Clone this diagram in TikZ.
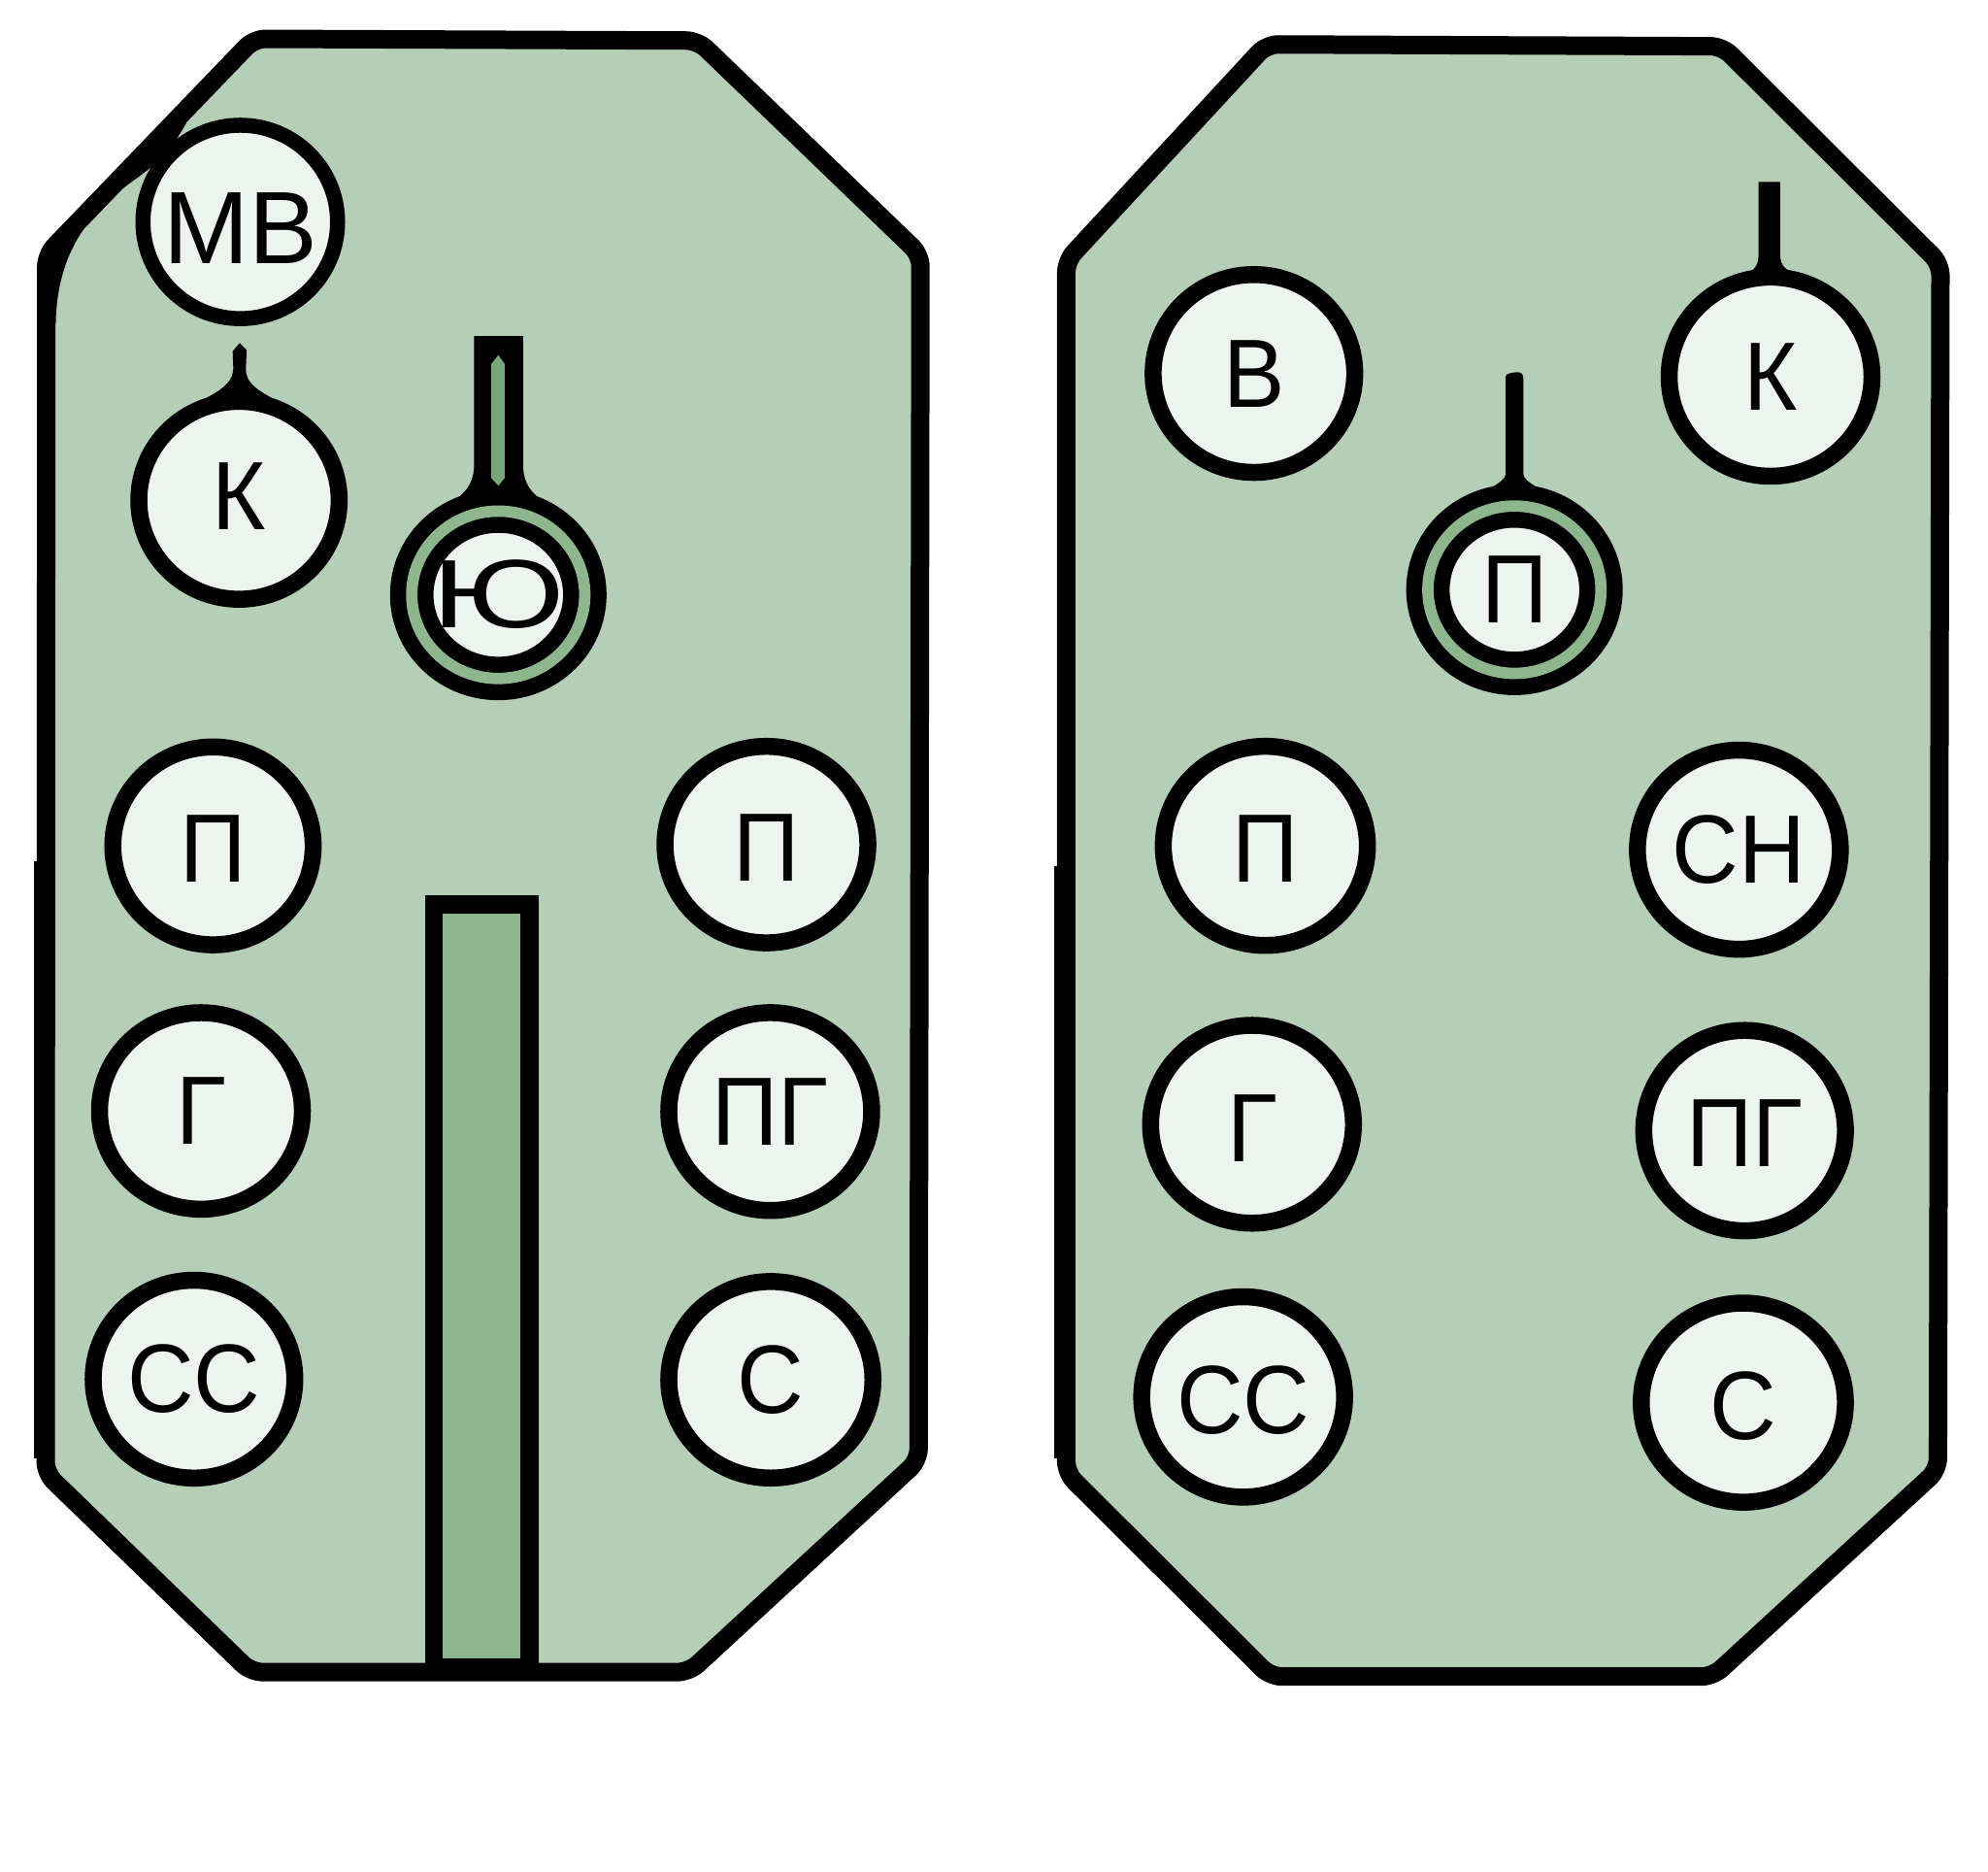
\documentclass[tikz,border=0pt]{standalone}
\usepackage{fontspec}
\setmainfont{Liberation Sans}
\usepackage{graphicx}
\usetikzlibrary{shapes.geometric}
\definecolor{panelgreen}{RGB}{181,207,183}
\definecolor{btnfill}{RGB}{237,244,237}
\definecolor{ringgreen}{RGB}{141,182,141}
\definecolor{slotgreen}{RGB}{120,168,122}
\newcommand{\btnfont}{\fontsize{100}{100}\selectfont}
\newcommand{\bigbtnfont}{\fontsize{106}{106}\selectfont}
\newcommand{\btxt}[2][0.95]{\makebox[0pt]{\scalebox{#1}[1]{#2}}}
\begin{document}
\begin{tikzpicture}[x=1.306122pt, y=-1.306122pt,
  panel/.style={draw=black, line width=19pt, fill=panelgreen, rounded corners=12pt, line join=round},
  btn/.style 2 args={ellipse, draw=black, line width=17.5pt, fill=btnfill, inner sep=0pt, outer sep=0pt, minimum width=#1, minimum height=#2, font=\btnfont},
  dbtn/.style={ellipse, draw=black, line width=16.5pt, double=ringgreen, double distance=11.75pt, fill=btnfill, inner sep=0pt, outer sep=0pt, minimum width=178.3pt, minimum height=172.4pt, font=\btnfont},
  stem/.style={fill=black},
]
\useasboundingbox (0,0) rectangle (1568,1476);
\fill[white] (0,0) rectangle (1568,1476);

% ---------- panels ----------
\path[panel] (200.4,30.6) -- (550.4,32) -- (726,201) -- (724.5,1151.5) -- (543.5,1318.5) -- (198,1318.5) -- (36,1161.7) -- (36.5,200.9) -- cycle;
\path[panel] (999,35) -- (1358.4,36.5) -- (1530.5,208) -- (1528.5,1159) -- (1351,1322) -- (1002,1322) -- (841,1161.5) -- (841,205.7) -- cycle;
\fill[black] (26.9,679) rectangle (30,1150);
\fill[black] (831.5,683) rectangle (835,1150);

% corner blob by the MB button
\fill[black] (137,96) -- (147,97) -- (132,122) -- (110,139) .. controls (80,160) and (45,190) .. (44,255) -- (36,255) -- (36.5,200.9) -- cycle;

% slot rectangle in the left panel
\fill[black] (335,706) rectangle (425,1318);
\fill[ringgreen] (349,720.5) rectangle (410.5,1308);

% ---------- stems ----------
% left K
\fill[stem] (183.5,277) -- (189,270.5) -- (194.5,276) -- (194,290) .. controls (193,303) and (205,309) .. (226,320) -- (151,320) .. controls (170,310) and (184,304) .. (184,290) -- cycle;
% Yu
\fill[stem] (374,265) -- (412.5,265) -- (412.5,365) .. controls (412.5,383) and (420,390) .. (434,399) -- (352,399) .. controls (366,390) and (374,383) .. (374,365) -- cycle;
\fill[slotgreen] (393,280) -- (398,287) -- (398,377) -- (393,383) -- (387.5,377) -- (387.5,287) -- cycle;
% right K
\fill[stem] (1387,143.5) -- (1404,143.5) -- (1404,200) .. controls (1404,212) and (1410,214) .. (1425,219) -- (1368,219) .. controls (1383,214) and (1387,212) .. (1387,200) -- cycle;
% right double P
\fill[stem] (1187.5,380) -- (1187.5,297) .. controls (1187.5,294.5) and (1193,293.5) .. (1197,293.5) .. controls (1200,293.5) and (1201.5,295) .. (1201.5,299) -- (1201.5,380) -- cycle;
\fill[stem] (1187.5,374) .. controls (1187.5,380) and (1172,386) .. (1146,404) -- (1243,404) .. controls (1217,386) and (1201.5,380) .. (1201.5,374) -- cycle;

% ---------- buttons, left panel ----------
\node[btn={200.5pt}{199.2pt}, line width=15.5pt, font=\bigbtnfont] (mv) at (189.5,175) {\raisebox{-6pt}[\height][\depth]{\btxt[1]{МВ}}};
\node[btn={206.4pt}{203.8pt}] (kl) at (188.5,394.5) {\raisebox{4pt}[\height][\depth]{\btxt{К}}};
\node[dbtn] (yu) at (393,469) {\btxt[1.35]{Ю}};
\node[btn={206.4pt}{203.8pt}] (pl1) at (168,667) {\raisebox{-3pt}[\height][\depth]{\btxt{П}}};
\node[btn={209pt}{202.4pt}] (gl) at (158.5,876) {\btxt{Г}};
\node[btn={207.7pt}{203.8pt}] (ssl) at (153,1087.5) {\btxt{СС}};
\node[btn={209pt}{202.4pt}] (pl2) at (604.5,666) {\raisebox{-3pt}[\height][\depth]{\btxt{П}}};
\node[btn={209pt}{203.8pt}] (pgl) at (607.5,876.5) {\btxt{ПГ}};
\node[btn={210.3pt}{202.4pt}] (sl) at (608,1088) {\btxt{С}};

% ---------- buttons, right panel ----------
\node[btn={207.7pt}{203.8pt}] (vr) at (989,294.5) {\btxt{В}};
\node[btn={209pt}{205.1pt}] (kr) at (1396.5,297) {\btxt{К}};
\node[dbtn] (pdr) at (1194.5,465) {\btxt{П}};
\node[btn={210.3pt}{205.1pt}] (pr) at (998,667) {\raisebox{-3pt}[\height][\depth]{\btxt{П}}};
\node[btn={209pt}{205.1pt}] (snr) at (1371.5,670) {\btxt{СН}};
\node[btn={209pt}{203.8pt}] (gr) at (987.5,886.5) {\raisebox{-4pt}[\height][\depth]{\btxt{Г}}};
\node[btn={207.7pt}{206.4pt}] (pgr) at (1376,891.5) {\raisebox{-3pt}[\height][\depth]{\btxt{ПГ}}};
\node[btn={209pt}{206.4pt}] (ssr) at (980.5,1101.5) {\raisebox{-3pt}[\height][\depth]{\btxt{СС}}};
\node[btn={210.3pt}{205.1pt}] (sr) at (1375,1106) {\raisebox{-3pt}[\height][\depth]{\btxt{С}}};
\end{tikzpicture}
\end{document}
